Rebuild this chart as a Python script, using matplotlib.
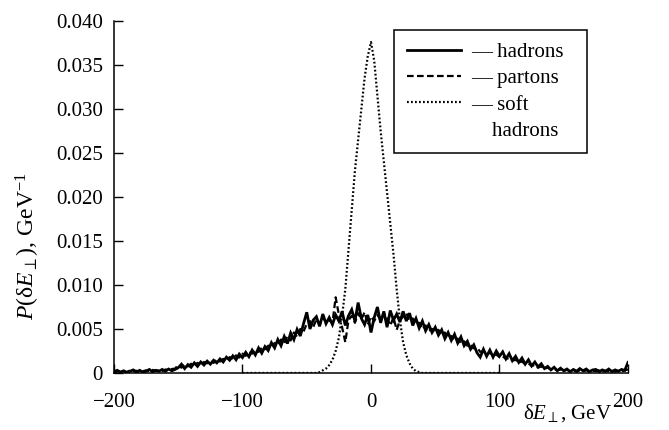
import numpy as np
import matplotlib
matplotlib.use("Agg")
import matplotlib.pyplot as plt
from matplotlib.lines import Line2D

# energy grid, GeV
energy = np.arange(-200, 200.1, 2.5)

# P(dE), units of 1e-3 / GeV
hadrons = [
    0.15, 0.3, 0.1, 0.25, 0.05, 0.2, 0.35, 0.1, 0.3, 0.1,
    0.2, 0.4, 0.15, 0.3, 0.2, 0.4, 0.2, 0.45, 0.25, 0.4,
    0.6, 1.0, 0.5, 0.95, 0.65, 1.15, 0.75, 1.25, 0.9, 1.35,
    1.0, 1.45, 1.15, 1.6, 1.25, 1.8, 1.45, 1.95, 1.5, 2.15,
    1.75, 2.35, 1.85, 2.6, 2.05, 2.85, 2.25, 3.0, 2.55, 3.45,
    2.85, 3.8, 3.1, 4.15, 3.35, 4.55, 3.8, 4.95, 4.2, 5.6,
    6.9, 5.0, 6.0, 6.4, 5.3, 6.7, 5.6, 6.3, 5.5, 6.6,
    5.9, 7.0, 5.4, 6.5, 7.2, 5.9, 8.0, 6.2, 5.5, 6.6,
    4.6, 6.3, 7.5, 5.7, 7.0, 5.2, 7.1, 6.0, 6.7, 5.8,
    7.0, 5.9, 6.8, 5.4, 6.2, 5.1, 5.9, 4.8, 5.5, 4.6,
    5.2, 4.3, 4.9, 3.9, 4.6, 3.7, 4.4, 3.4, 4.1, 3.1,
    3.6, 2.7, 3.2, 2.3, 1.8, 2.7, 1.9, 2.6, 1.8, 2.5,
    1.9, 2.4, 1.6, 2.2, 1.4, 1.9, 1.2, 1.7, 1.0, 1.5,
    0.8, 1.25, 0.7, 1.05, 0.5, 0.75, 0.35, 0.65, 0.25, 0.55,
    0.25, 0.45, 0.15, 0.4, 0.2, 0.5, 0.25, 0.45, 0.15, 0.35,
    0.4, 0.15, 0.35, 0.2, 0.45, 0.15, 0.35, 0.2, 0.4, 0.3,
    1.2,
]

partons = [
    0.1, 0.2, 0.15, 0.25, 0.1, 0.3, 0.2, 0.25, 0.15, 0.2,
    0.3, 0.2, 0.35, 0.25, 0.3, 0.2, 0.4, 0.3, 0.45, 0.5,
    0.9, 0.6, 1.0, 0.75, 1.05, 0.85, 1.15, 0.9, 1.25, 1.1,
    1.35, 1.15, 1.5, 1.3, 1.6, 1.45, 1.8, 1.6, 2.0, 1.75,
    2.2, 1.95, 2.4, 2.2, 2.6, 2.4, 2.85, 2.7, 3.1, 2.9,
    3.4, 3.1, 3.8, 3.4, 4.2, 3.7, 4.6, 4.1, 5.0, 4.7,
    5.6, 5.9, 5.2, 6.1, 5.5, 6.3, 5.8, 6.0, 5.7, 8.6,
    6.6, 5.2, 3.5, 6.0, 6.5, 5.7, 6.8, 6.1, 6.9, 5.5,
    6.4, 5.9, 6.6, 6.0, 6.8, 6.2, 5.4, 6.3, 4.9, 6.0,
    6.4, 6.8, 5.9, 6.2, 5.6, 5.7, 5.0, 5.4, 4.8, 5.0,
    4.6, 4.9, 4.3, 4.6, 4.0, 4.2, 3.7, 3.9, 3.4, 3.6,
    3.1, 3.2, 2.8, 2.9, 2.4, 2.5, 2.1, 2.3, 2.0, 2.1,
    1.8, 1.9, 1.6, 1.7, 1.4, 1.5, 1.2, 1.3, 1.0, 1.1,
    0.8, 0.9, 0.6, 0.75, 0.5, 0.6, 0.4, 0.45, 0.3, 0.4,
    0.25, 0.35, 0.2, 0.3, 0.15, 0.3, 0.2, 0.3, 0.15, 0.25,
    0.2, 0.3, 0.15, 0.25, 0.2, 0.3, 0.15, 0.25, 0.2, 0.3,
    0.4,
]

# soft hadrons, defined on -100..100 GeV
soft_energy = np.arange(-100, 100.1, 2.5)
soft_hadrons = [
    0, 0, 0, 0, 0, 0, 0, 0, 0, 0,
    0, 0, 0, 0, 0, 0, 0, 0, 0, 0,
    0, 0, 0, 0,
    0.1, 0.3, 0.5, 0.9, 1.5, 2.5, 4.0, 6.5, 9.5, 14.0,
    18.5, 23.0, 26.5, 30.0, 33.5, 36.0, 37.6, 35.5, 31.5, 27.5,
    24.0, 20.5, 17.0, 13.5, 9.5, 6.0, 3.5, 2.0, 1.1, 0.5,
    0.2, 0.1,
    0, 0, 0, 0, 0, 0, 0, 0, 0, 0,
    0, 0, 0, 0, 0, 0, 0, 0, 0, 0,
    0, 0, 0, 0, 0,
]

x_ticks = [-200, -100, 0, 100, 200]
x_tick_labels = ["\u2212200", "\u2212100", "0", "100", "200"]
y_ticks = [0, 0.005, 0.010, 0.015, 0.020, 0.025, 0.030, 0.035, 0.040]
y_tick_labels = ["0", "0.005", "0.010", "0.015", "0.020",
                 "0.025", "0.030", "0.035", "0.040"]

plt.rcParams["font.family"] = ["Liberation Serif", "DejaVu Serif"]
plt.rcParams["mathtext.fontset"] = "custom"
plt.rcParams["mathtext.rm"] = "Liberation Serif"
plt.rcParams["mathtext.it"] = "Liberation Serif:italic"

fig = plt.figure(figsize=(6.69, 4.30), dpi=100)
ax = fig.add_axes([0.1704, 0.1326, 0.7683, 0.8186])

ax.plot(energy, np.array(hadrons) * 1e-3, color="black", lw=2.0,
        solid_joinstyle="miter")
ax.plot(energy, np.array(partons) * 1e-3, color="black", lw=1.6,
        dashes=(3.0, 1.5))
ax.plot(soft_energy, np.array(soft_hadrons) * 1e-3, color="black", lw=1.6,
        dashes=(0.8, 1.0))

ax.set_xlim(-200, 200)
ax.set_ylim(0, 0.040)

for side in ["top", "right"]:
    ax.spines[side].set_visible(False)
for side in ["left", "bottom"]:
    ax.spines[side].set_linewidth(1.1)

ax.set_xticks(x_ticks)
ax.set_xticklabels(x_tick_labels)
ax.set_yticks(y_ticks)
ax.set_yticklabels(y_tick_labels)
ax.tick_params(direction="in", length=6.5, width=1.0, labelsize=15)
ax.tick_params(axis="x", pad=14.5)
ax.tick_params(axis="y", pad=8)

ax.set_xlabel(r"$\mathrm{δ}E_{\perp}$, GeV", fontsize=15, va="center")
ax.xaxis.set_label_coords(0.882, -0.115)
ax.set_ylabel(r"$P(\mathrm{δ}E_{\perp})$, GeV$^{-1}$", fontsize=17,
              va="center")
ax.yaxis.set_label_coords(-0.167, 0.36)

legend_elements = [
    Line2D([0], [0], color="black", lw=2.0, label="\u2014 hadrons  "),
    Line2D([0], [0], color="black", lw=1.6, dashes=(3.0, 1.5),
           label="\u2014 partons"),
    Line2D([0], [0], color="black", lw=1.6, dashes=(0.8, 1.0),
           label="\u2014 soft"),
    Line2D([0], [0], color="none", label="    hadrons"),
]
leg = ax.legend(
    handles=legend_elements,
    loc="upper left",
    bbox_to_anchor=(0.545, 0.974),
    fontsize=15,
    frameon=True,
    fancybox=False,
    edgecolor="black",
    framealpha=1,
    handlelength=2.6,
    handletextpad=0.5,
    labelspacing=0.32,
    borderpad=0.6,
    borderaxespad=0,
)
leg.get_frame().set_linewidth(1.1)

fig.savefig("out.png", dpi=100)
